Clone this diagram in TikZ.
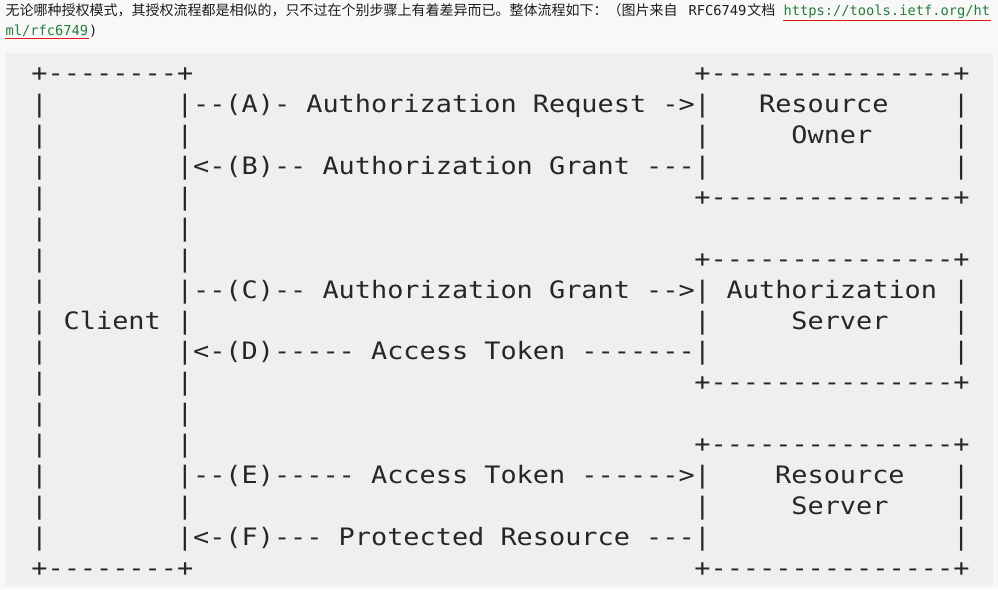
\documentclass[tikz,border=0pt]{standalone}
\usepackage{fontspec}
\setmonofont{DejaVu Sans Mono}[FakeStretch=1.12]
\newfontfamily\cjk{Noto Sans CJK SC}
\newfontfamily\linkfont{DejaVu Sans Mono}

\definecolor{pagebg}{RGB}{248,248,248}
\definecolor{codebg}{RGB}{239,239,237}
\definecolor{artink}{RGB}{38,38,38}
\definecolor{introink}{RGB}{30,30,30}
\definecolor{linkgreen}{RGB}{40,125,60}
\definecolor{markred}{RGB}{235,20,20}

\tikzset{every picture/.style={line width=0.75pt}}
\tikzset{
  art/.style={font=\ttfamily\fontsize{18}{20}\selectfont, text=artink, inner sep=0pt, anchor=base west},
  introtext/.style={font=\cjk\fontsize{10.5}{12}\selectfont, text=introink, inner sep=0pt, anchor=base west},
  monotext/.style={font=\linkfont\fontsize{10.3}{12}\selectfont, text=introink, inner sep=0pt, anchor=base west},
  linktext/.style={monotext, text=linkgreen},
  redline/.style={draw=markred, line width=1.1pt}
}

\begin{document}
\begin{tikzpicture}[x=0.75pt,y=0.75pt,yscale=-1,xscale=1]
\useasboundingbox (0,0) rectangle (998,589);

%Shape: Page [id:page]
\fill [pagebg] (0,0) rectangle (998,589);
%Shape: Code block [id:block]
\fill [codebg] (6,53) rectangle (993,586);

% Text Node
\node [introtext] (intro) at (5,15.5) {无论哪种授权模式，其授权流程都是相似的，只不过在个别步骤上有着差异而已。整体流程如下：（图片来自};
% Text Node
\node [monotext] (rfc) at (688,15.5) {RFC6749};
\node [introtext] (doc) at (rfc.base east) {文档};
% Text Node
\node [linktext] (link) at (783,15.5) {https://tools.ietf.org/ht};
\node [linktext] (linkend) at (5,35.5) {ml/rfc6749};
\node [monotext] (paren) at (linkend.base east) {)};
%Straight Lines [id:underline]
\draw [redline] ([yshift=1pt]link.south west) -- ([yshift=1pt]link.south east);
\draw [redline] ([yshift=1pt]linkend.south west) -- ([yshift=1pt]linkend.south east);

%Shape: Client box
\node [art] (cl-top) at (30.9,81.5) {+--------+};
\node [art] (cl-bot) at (30.9,{81.5+30.94*16}) {+--------+};
\foreach \r in {1,...,15}{
  \node [art] (cl-l\r) at (30.9,{81.5+30.94*\r}) {|};
  \node [art] (cl-r\r) at (176.43,{81.5+30.94*\r}) {|};
}
% Text Node
\node [art] (client) at (63.24,{81.5+30.94*8}) {Client};

%Shape: Resource Owner, Authorization Server, Resource Server boxes
\foreach \t/\b in {0/ro,6/as,12/rs}{
  \node [art] (\b-top) at (693.9,{81.5+30.94*\t}) {+---------------+};
  \node [art] (\b-bot) at (693.9,{81.5+30.94*(\t+4)}) {+---------------+};
  \foreach \k in {1,2,3}{
    \node [art] (\b-l\k) at (693.9,{81.5+30.94*(\t+\k)}) {|};
    \node [art] (\b-r\k) at (952.6,{81.5+30.94*(\t+\k)}) {|};
  }
}
% Text Node
\node [art] (owner1) at (758.6,{81.5+30.94*1}) {Resource};
\node [art] (owner2) at (790.9,{81.5+30.94*2}) {Owner};
% Text Node
\node [art] (authsrv1) at (726.2,{81.5+30.94*7}) {Authorization};
\node [art] (authsrv2) at (790.9,{81.5+30.94*8}) {Server};
% Text Node
\node [art] (ressrv1) at (774.7,{81.5+30.94*13}) {Resource};
\node [art] (ressrv2) at (790.9,{81.5+30.94*14}) {Server};

% Text Node: flows
\node [art] (flowA) at (192.6,{81.5+30.94*1}) {--(A)- Authorization Request ->};
\node [art] (flowB) at (192.6,{81.5+30.94*3}) {<-(B)-- Authorization Grant ---};
\node [art] (flowC) at (192.6,{81.5+30.94*7}) {--(C)-- Authorization Grant -->};
\node [art] (flowD) at (192.6,{81.5+30.94*9}) {<-(D)----- Access Token -------};
\node [art] (flowE) at (192.6,{81.5+30.94*13}) {--(E)----- Access Token ------>};
\node [art] (flowF) at (192.6,{81.5+30.94*15}) {<-(F)--- Protected Resource ---};

\end{tikzpicture}
\end{document}
